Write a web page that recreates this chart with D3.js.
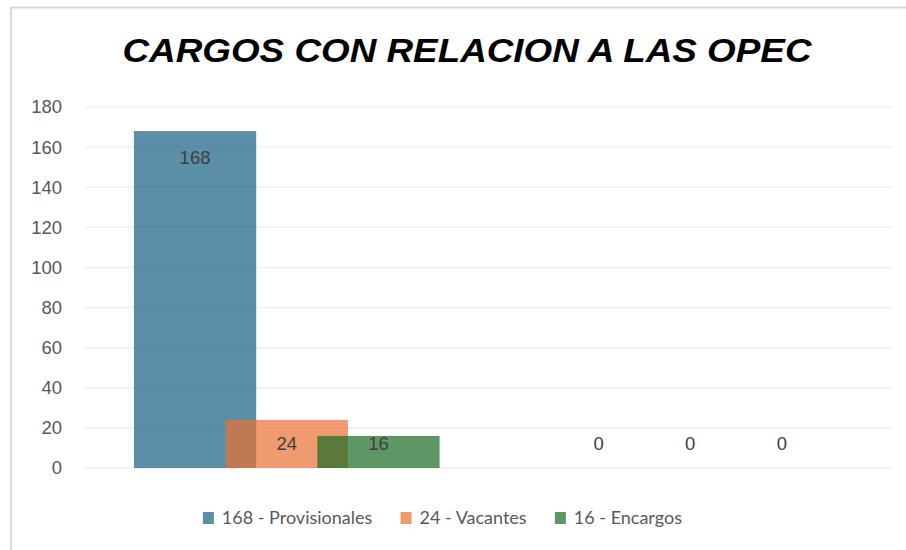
<!DOCTYPE html>
<html>
<head>
<meta charset="utf-8">
<script src="https://cdn.jsdelivr.net/npm/d3@7"></script>
<style>
  body { margin: 0; background: #fff; }
  svg text { font-family: "Liberation Sans", Arial, sans-serif; }
</style>
</head>
<body>
<svg id="chart" width="906" height="550"></svg>
<script>
// chart data
const categories = ["1", "2"];
const seriesNames = ["168 - Provisionales", "24 - Vacantes", "16 - Encargos"];
const provisionales = [168, 0];
const vacantes = [24, 0];
const encargos = [16, 0];
const yTicks = [0, 20, 40, 60, 80, 100, 120, 140, 160, 180];
const colors = ["#156082", "#E97132", "#196B24"];

const seriesValues = [provisionales, vacantes, encargos];

const svg = d3.select("#chart");
const margin = { top: 107, right: 14, bottom: 82, left: 85 };
const width = 906 - margin.left - margin.right;
const height = 550 - margin.top - margin.bottom;

// outer frame
svg.append("rect")
    .attr("x", 11).attr("y", 7.5)
    .attr("width", 1000).attr("height", 1000)
    .attr("fill", "none")
    .attr("stroke", "#d9d9d9")
    .attr("stroke-width", 2);

// title
svg.append("text")
    .attr("x", 467).attr("y", 62)
    .attr("text-anchor", "middle")
    .attr("font-size", 33)
    .attr("font-weight", "bold")
    .attr("font-style", "italic")
    .attr("textLength", 689)
    .attr("lengthAdjust", "spacingAndGlyphs")
    .attr("fill", "#000")
    .text("CARGOS CON RELACION A LAS OPEC");

const g = svg.append("g").attr("transform", `translate(${margin.left},${margin.top})`);

const y = d3.scaleLinear().domain([0, 180]).range([height, 0]);
const x0 = d3.scaleBand().domain(categories).range([0, width]);

// Excel-like: gap width 80%, overlap 25%
const barW = x0.bandwidth() / 3.3;
const xs = d3.scalePoint().domain(seriesNames).range([-0.75 * barW, 0.75 * barW]);

// gridlines
g.append("g")
    .selectAll("line")
    .data(yTicks)
    .join("line")
    .attr("x1", 0).attr("x2", width)
    .attr("y1", d => y(d)).attr("y2", d => y(d))
    .attr("stroke", "#efefef")
    .attr("stroke-width", 1.5);

// y axis
const yAxis = g.append("g")
    .call(d3.axisLeft(y).tickValues(yTicks).tickSize(0).tickPadding(23));
yAxis.select(".domain").remove();
yAxis.selectAll("text")
    .attr("font-size", 18.5)
    .attr("fill", "#595959")
    .style("font-family", "'Liberation Sans', Arial, sans-serif");

// bars
const rows = [];
seriesNames.forEach((s, i) => {
    categories.forEach((c, j) => {
        rows.push({ series: s, cat: c, value: seriesValues[i][j], color: colors[i] });
    });
});

g.append("g")
    .selectAll("rect")
    .data(rows)
    .join("rect")
    .attr("x", d => x0(d.cat) + x0.bandwidth() / 2 + xs(d.series) - barW / 2)
    .attr("y", d => y(d.value))
    .attr("width", barW)
    .attr("height", d => y(0) - y(d.value))
    .attr("fill", d => d.color)
    .attr("fill-opacity", 0.7);

// data labels
g.append("g")
    .selectAll("text")
    .data(rows)
    .join("text")
    .attr("x", d => x0(d.cat) + x0.bandwidth() / 2 + xs(d.series))
    .attr("y", d => Math.min(y(d.value) + 26, y(0) - 24))
    .attr("dy", "0.35em")
    .attr("text-anchor", "middle")
    .attr("font-size", 18.5)
    .attr("fill", "#404040")
    .text(d => d.value);

// legend
const legend = svg.append("g").attr("transform", "translate(0,518)");
const items = legend.selectAll("g")
    .data(seriesNames)
    .join("g");
items.append("rect")
    .attr("y", -6)
    .attr("width", 11).attr("height", 12)
    .attr("fill", (d, i) => colors[i])
    .attr("fill-opacity", 0.7);
items.append("text")
    .attr("x", 19)
    .attr("dy", "0.35em")
    .attr("font-size", 18)
    .attr("fill", "#595959")
    .style("font-family", "Lato, 'Liberation Sans', sans-serif")
    .text(d => d);

const widths = [];
items.each(function () {
    widths.push(this.getBBox().width);
});
const gap = 28;
const total = d3.sum(widths) + gap * (widths.length - 1);
let lx = 442.5 - total / 2;
items.attr("transform", (d, i) => {
    const t = `translate(${lx},0)`;
    lx += widths[i] + gap;
    return t;
});
</script>
</body>
</html>
